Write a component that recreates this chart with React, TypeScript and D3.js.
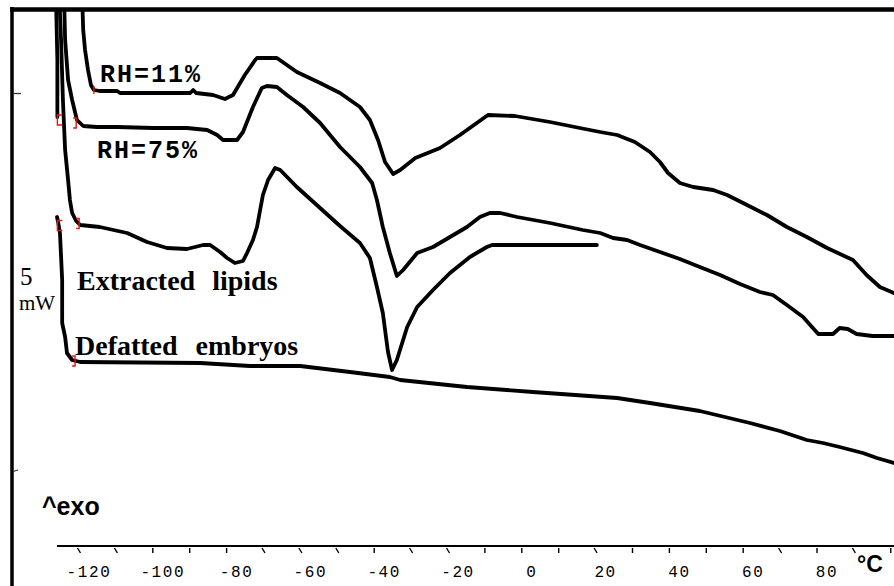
import React from 'react';
import * as d3 from 'd3';

const WIDTH = 894;
const HEIGHT = 586;

// DSC heating scans: temperature (°C) and heat flow (mW, exo up, curves offset)
const rh11Temp = [-121.6, -121.3, -120.8, -120.0, -119.2, -118.4, -116.8, -112.1, -111.3, -92.3, -91.5, -90.7, -86.1, -82.9, -80.7, -77.5, -74.7, -74.2, -68.8, -63.4, -57.1, -51.7, -46.3, -43.6, -41.4, -39.5, -37.3, -35.4, -31.3, -24.6, -19.2, -11.6, -4.3, 5.2, 13.3, 18.8, 23.4, 28.2, 32.3, 35.0, 37.2, 40.4, 44.0, 49.4, 53.2, 58.6, 64.0, 69.4, 74.8, 80.3, 87.3, 91.0, 94.6, 98.4];
const rh11Flow = [59.1, 55.6, 53.6, 51.6, 50.1, 49.6, 49.5, 49.5, 49.3, 49.3, 49.6, 49.3, 49.1, 48.7, 49.1, 51.1, 52.6, 52.8, 52.8, 51.4, 50.3, 49.3, 47.9, 46.6, 44.6, 42.4, 41.2, 41.6, 42.8, 43.8, 45.1, 47.1, 47.0, 46.4, 45.8, 45.4, 45.1, 44.4, 43.4, 42.4, 41.3, 40.3, 39.9, 39.6, 39.1, 38.1, 37.1, 35.9, 34.9, 33.8, 32.6, 31.1, 29.9, 29.3];

const rh75Temp = [-128.3, -128.3, -128.7, -126.5, -126.2, -125.4, -124.3, -123.0, -121.3, -117.6, -112.1, -102.4, -93.2, -87.7, -85.0, -83.4, -79.6, -78.0, -75.3, -72.9, -71.5, -68.8, -66.1, -61.7, -57.1, -51.7, -46.3, -43.0, -41.7, -40.1, -38.2, -36.3, -34.6, -30.8, -26.5, -21.9, -17.3, -13.8, -11.1, -8.3, -3.7, 5.2, 14.1, 18.8, 22.3, 26.1, 29.6, 35.0, 40.4, 45.8, 51.3, 56.7, 62.1, 65.6, 69.4, 73.8, 76.2, 77.9, 81.9, 83.7, 85.9, 88.3, 92.6, 98.4];
const rh75Flow = [46.9, 52.6, 59.1, 59.1, 54.6, 50.6, 48.6, 46.6, 46.0, 45.9, 45.9, 45.8, 45.8, 45.6, 45.1, 44.6, 44.6, 45.4, 47.9, 49.8, 50.0, 49.9, 49.1, 47.9, 46.3, 43.9, 41.9, 40.3, 38.6, 35.9, 33.3, 31.0, 31.6, 33.3, 33.9, 34.9, 35.9, 36.9, 37.3, 37.3, 36.9, 36.3, 35.6, 35.3, 34.8, 34.6, 34.1, 33.4, 32.7, 31.9, 31.1, 30.2, 29.4, 29.1, 28.1, 26.9, 25.9, 25.2, 25.2, 25.8, 25.7, 25.2, 25.0, 25.0];

const lipidTemp = [-127.8, -127.3, -126.8, -126.2, -125.4, -124.9, -124.3, -123.2, -122.1, -116.8, -109.4, -104.0, -98.6, -93.2, -88.8, -86.9, -84.2, -82.3, -80.2, -78.0, -76.9, -75.3, -74.2, -72.6, -71.2, -69.3, -67.9, -63.4, -57.1, -51.7, -46.3, -43.6, -41.7, -40.1, -38.7, -37.6, -36.3, -33.5, -30.8, -26.5, -21.9, -16.5, -11.9, -10.5, 17.9];
const lipidFlow = [59.1, 54.6, 48.6, 43.6, 40.6, 38.6, 37.3, 36.5, 36.1, 35.9, 35.3, 34.4, 33.8, 33.7, 34.1, 34.1, 33.4, 32.8, 32.3, 32.5, 33.3, 34.6, 35.9, 39.1, 40.6, 41.8, 41.6, 39.9, 37.8, 36.0, 34.3, 32.8, 29.9, 27.3, 23.4, 21.6, 22.6, 25.9, 27.9, 29.6, 31.3, 32.9, 33.9, 34.1, 34.1];

const defattedTemp = [-128.4, -128.1, -127.6, -127.0, -127.0, -126.2, -125.7, -124.3, -122.1, -89.6, -76.1, -62.5, -49.0, -38.2, -35.4, -17.3, 0.6, 23.4, 32.3, 45.8, 59.4, 67.5, 74.8, 79.2, 83.7, 90.0, 93.8, 98.4];
const defattedFlow = [36.9, 36.4, 35.3, 30.6, 26.3, 24.9, 23.3, 22.6, 22.4, 22.3, 22.0, 22.0, 21.4, 20.9, 20.6, 19.9, 19.4, 18.8, 18.3, 17.5, 16.3, 15.5, 14.6, 14.3, 13.9, 13.3, 12.8, 12.3];

// Integration limit markers
const markerTemp = [-118.4, -128.3, -123.2, -128.3, -122.4, -123.5];
const markerFlow = [49.6, 46.6, 46.3, 36.05, 36.25, 22.5];
const markerKind = ['tick', 'open', 'close', 'open', 'close', 'close'];

// Axis ticks and labels
const tickLabels = [-120, -100, -80, -60, -40, -20, 0, 20, 40, 60, 80];
const minorTicks = d3.range(-120, 101, 10);
const slantedTicks = [-120, -110, -70, -60, -50, -30, -20, 20, 70, 90];
const flowTicks = [49.25, 11.45];
const flowTickLen = [8, 5];

const seriesLabels = ['RH=11%', 'RH=75%'];
const sampleLabels = ['Extracted lipids', 'Defatted embryos'];

export default function App() {
  const x = d3.scaleLinear().domain([-120, 80]).range([88, 826]);
  const y = d3.scaleLinear().domain([0, 58.6]).range([HEIGHT, 0]);

  const line = d3
    .line<[number, number]>()
    .x((d) => x(d[0]))
    .y((d) => y(d[1]))
    .curve(d3.curveLinear);

  const curves = [
    d3.zip(rh11Temp, rh11Flow),
    d3.zip(rh75Temp, rh75Flow),
    d3.zip(lipidTemp, lipidFlow),
    d3.zip(defattedTemp, defattedFlow),
  ] as [number, number][][];

  const axisY = 546;
  const tickShift = -9;

  return (
    <svg
      width={WIDTH}
      height={HEIGHT}
      viewBox={`0 0 ${WIDTH} ${HEIGHT}`}
      style={{ position: 'absolute', left: 0, top: 0, background: '#fff' }}
    >
      <defs>
        <clipPath id="plot-clip">
          <rect x={12} y={9} width={WIDTH - 12} height={HEIGHT - 9} />
        </clipPath>
      </defs>
      <rect width={WIDTH} height={HEIGHT} fill="#fff" />

      <g clipPath="url(#plot-clip)">
        {curves.map((c, i) => (
          <path
            key={i}
            d={line(c) ?? ''}
            fill="none"
            stroke="#000"
            strokeWidth={3.8}
            strokeLinejoin="round"
            strokeLinecap="round"
          />
        ))}
      </g>

      {/* integration limit brackets */}
      <g stroke="#e8160c" strokeWidth={1.4} fill="none">
        {markerTemp.map((t, i) => {
          const mx = x(t);
          const my = y(markerFlow[i]);
          const kind = markerKind[i];
          let d = '';
          if (kind === 'tick') d = `M${mx},${my - 4}V${my + 4}`;
          else if (kind === 'open') d = `M${mx + 5},${my - 5}H${mx}V${my + 5}H${mx + 5}`;
          else d = `M${mx - 3},${my - 5}H${mx}V${my + 5}H${mx - 3}`;
          return <path key={i} d={d} />;
        })}
      </g>

      {/* frame */}
      <line x1={10} x2={WIDTH} y1={9.5} y2={9.5} stroke="#000" strokeWidth={4.5} />
      <line x1={12} x2={12} y1={7} y2={HEIGHT} stroke="#000" strokeWidth={3.5} />
      {flowTicks.map((v, i) => (
        <line key={v} x1={13} x2={13 + flowTickLen[i]} y1={y(v)} y2={y(v) - (i === 1 ? 1.5 : 0)} stroke="#333" strokeWidth={1.3} />
      ))}

      {/* temperature axis */}
      <line x1={57} x2={WIDTH} y1={axisY} y2={axisY} stroke="#000" strokeWidth={2} />
      {minorTicks.map((v) => {
        const tx = x(v) + tickShift;
        const slant = slantedTicks.includes(v) ? 1.5 : 0;
        return (
          <line key={v} x1={tx - slant} x2={tx + slant} y1={axisY + 2} y2={axisY + 7} stroke="#000" strokeWidth={1.4} />
        );
      })}
      {tickLabels.map((v) => (
        <text
          key={v}
          x={x(v) + 1}
          y={577}
          textAnchor="middle"
          fontFamily="'Liberation Mono', monospace"
          fontSize={16}
          letterSpacing={1.6}
          fill="#000"
        >
          {v < 0 ? `-${Math.abs(v)}` : `${v}`}
        </text>
      ))}
      <text x={857} y={572} fontFamily="'Liberation Sans', Arial, sans-serif" fontWeight="bold" fontSize={23} fill="#000">
        °C
      </text>

      {/* scale and direction labels */}
      <text x={20} y={285} fontFamily="'Liberation Serif', serif" fontSize={25} fill="#000">5</text>
      <text x={19} y={310} fontFamily="'Liberation Serif', serif" fontSize={21} fill="#000">mW</text>
      <text x={42} y={515} fontFamily="'Liberation Sans', Arial, sans-serif" fontWeight="bold" fontSize={25} fill="#000">^exo</text>

      {/* curve labels */}
      <text x={100} y={82} fontFamily="'Liberation Mono', monospace" fontWeight="bold" fontSize={25} letterSpacing={2} fill="#000">
        {seriesLabels[0]}
      </text>
      <text x={97} y={158} fontFamily="'Liberation Mono', monospace" fontWeight="bold" fontSize={25} letterSpacing={2} fill="#000">
        {seriesLabels[1]}
      </text>
      <text x={77} y={290} fontFamily="'Liberation Serif', serif" fontWeight="bold" fontSize={28} wordSpacing={10} fill="#000">
        {sampleLabels[0]}
      </text>
      <text x={75} y={355} fontFamily="'Liberation Serif', serif" fontWeight="bold" fontSize={28} wordSpacing={11} fill="#000">
        {sampleLabels[1]}
      </text>
    </svg>
  );
}
